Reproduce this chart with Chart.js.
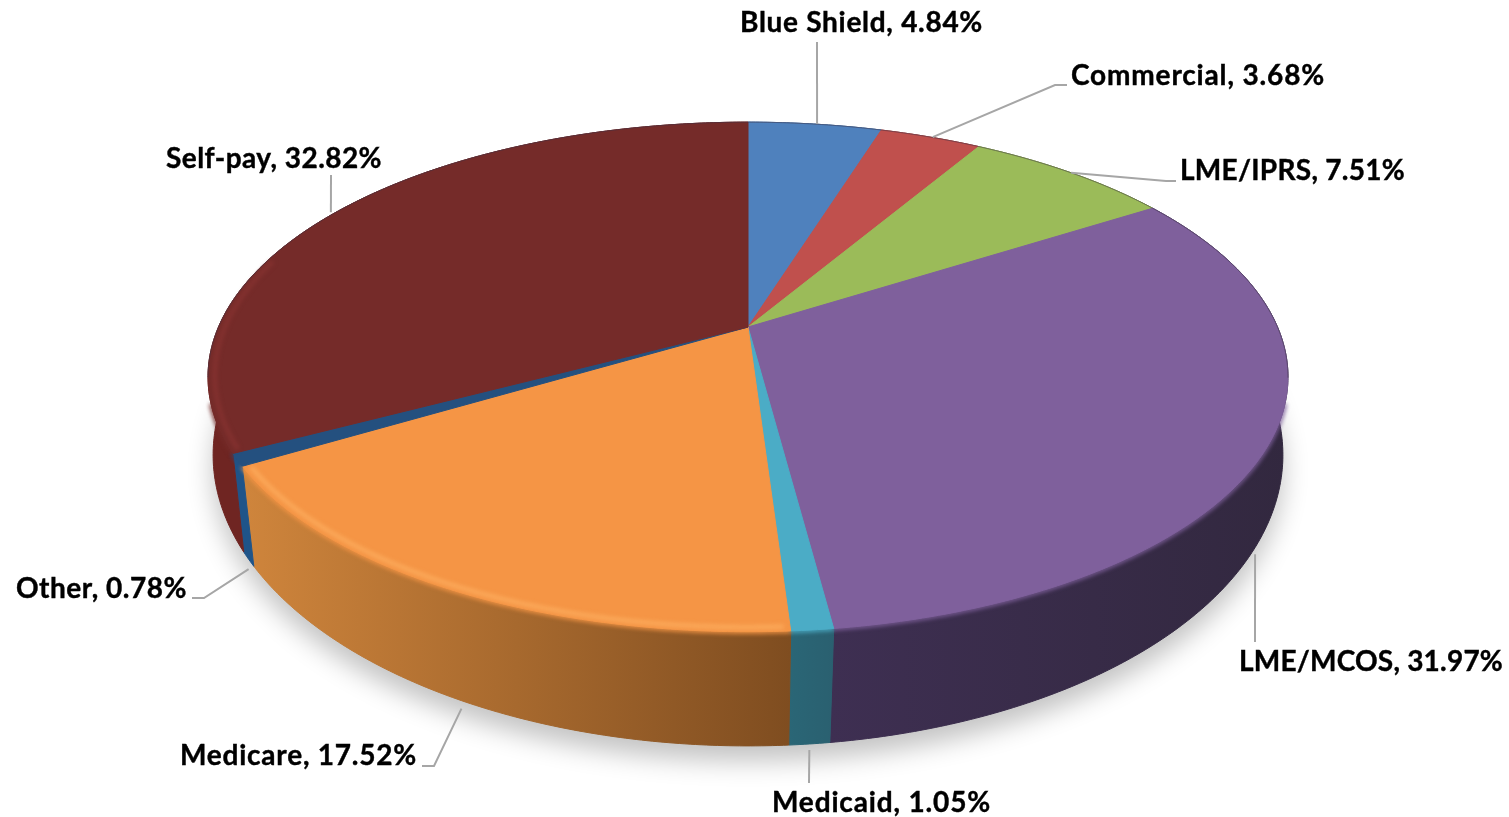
<!DOCTYPE html>
<html lang="en">
<head>
<meta charset="UTF-8">
<title>Payer mix</title>
<script src="https://cdn.jsdelivr.net/npm/chart.js"></script>
<style>
    html, body { margin: 0; padding: 0; background: #fff; overflow: hidden; }
    #payerChart { display: block; }
</style>
</head>
<body>
<canvas id="payerChart" width="1509" height="817"></canvas>
<script>
const categories = ['Blue Shield', 'Commercial', 'LME/IPRS', 'LME/MCOS', 'Medicaid', 'Medicare', 'Other', 'Self-pay'];
const shares = [4.84, 3.68, 7.51, 31.97, 1.05, 17.52, 0.78, 32.82];

const topColors = ['#4f81bd', '#c0504d', '#9bbb59', '#7f609c', '#4bacc6', '#f59545', '#24507f', '#752b29'];
const rimColors = ['#4f81bd', '#c0504d', '#9bbb59', '#7f609c', '#4bacc6', '#fcab5c', '#24507f', '#863230'];
const sideLeft = ['#3a5f8c', '#8f3b39', '#738b42', '#3e2f52', '#2a6676', '#cf853c', '#1f5489', '#6f2522'];
const sideRight = ['#3a5f8c', '#8f3b39', '#738b42', '#32283f', '#2a6070', '#7f4d20', '#1f5489', '#6f2522'];

// leader lines: which rim they leave from, a small nudge off the rim, then the bends
const leaderRim = ['top', 'top', 'top', 'bottom', 'bottom', 'bottom', 'bottom', 'top'];
const leaderNudge = [[2, 0], [2, 0], [0, 0], [-6, 17], [0, 6], [0, 8], [0, 10], [-5, 0]];
const leaderBends = [
    [[817, 42]],
    [[1055, 85], [1067, 85]],
    [[1166, 181], [1176, 181]],
    [[1255, 642]],
    [[809, 783]],
    [[434, 766], [422, 766]],
    [[204, 598], [192, 598]],
    [[331, 175]]
];
const labelPos = [[740, 32], [1071, 85], [1180, 180], [1239, 671], [772, 812], [180, 765], [16, 598], [166, 168]];
const labelWidth = [243, 254, 225, 264, 219, 237, 171, 216];

// perspective of the flat disc: the top face and the bottom rim
const topFace = { cx: 748, cy: 327, a: 529.5, b: 245, k: 0.196 };
const bottomFace = { cx: 748, cy: 408.4, a: 528, b: 283.5, k: 0.16 };

function project(face, angle, r = 1) {
    const u = Math.cos(angle) * r;
    const v = Math.sin(angle) * r;
    const w = 1 - face.k * v;
    return [face.cx + face.a * u / w, face.cy + face.b * v / w];
}

function rimPoints(face, start, end, r = 1) {
    const steps = Math.max(2, Math.ceil((end - start) / (Math.PI / 360)));
    const pts = [];
    for (let i = 0; i <= steps; i++) {
        pts.push(project(face, start + (end - start) * i / steps, r));
    }
    return pts;
}

function tracePts(ctx, pts) {
    pts.forEach(function (p, i) {
        if (i === 0) ctx.moveTo(p[0], p[1]);
        else ctx.lineTo(p[0], p[1]);
    });
}

const pie3d = {
    id: 'pie3d',
    // the library works out the slice angles, this only changes how they look
    beforeDatasetDraw(chart) {
        const ctx = chart.ctx;
        const arcs = chart.getDatasetMeta(0).data;

        // soft shadow under the pie
        ctx.save();
        ctx.shadowColor = 'rgba(0,0,0,0.24)';
        ctx.shadowBlur = 26;
        ctx.shadowOffsetY = 15;
        ctx.fillStyle = '#999';
        ctx.beginPath();
        tracePts(ctx, rimPoints(bottomFace, 0, Math.PI * 2));
        ctx.closePath();
        ctx.fill();
        ctx.restore();

        // side bands first, the top face covers the back ones
        arcs.forEach(function (arc, i) {
            const top = rimPoints(topFace, arc.startAngle, arc.endAngle);
            const bottom = rimPoints(bottomFace, arc.startAngle, arc.endAngle);
            const xs = top.concat(bottom).map(p => p[0]);
            const grad = ctx.createLinearGradient(Math.min(...xs), 0, Math.max(...xs), 0);
            grad.addColorStop(0, sideLeft[i]);
            grad.addColorStop(1, sideRight[i]);
            ctx.fillStyle = grad;
            ctx.strokeStyle = grad;
            ctx.lineWidth = 1;
            ctx.beginPath();
            tracePts(ctx, top);
            bottom.reverse().forEach(p => ctx.lineTo(p[0], p[1]));
            ctx.closePath();
            ctx.fill();
            ctx.stroke();
        });

        // soft bevel: the top colour blurs a little into the side along the front rim
        arcs.forEach(function (arc, i) {
            const front = Math.max(arc.startAngle, 0.3);
            const frontEnd = Math.min(arc.endAngle, Math.PI - 0.3);
            if (frontEnd > front) {
                ctx.save();
                ctx.filter = 'blur(2px)';
                ctx.strokeStyle = topColors[i];
                ctx.lineWidth = 4;
                ctx.beginPath();
                tracePts(ctx, rimPoints(topFace, front, frontEnd, 1));
                ctx.stroke();
                ctx.restore();
            }
        });

        // top face
        arcs.forEach(function (arc, i) {
            ctx.fillStyle = topColors[i];
            ctx.strokeStyle = topColors[i];
            ctx.lineWidth = 1;
            ctx.beginPath();
            ctx.moveTo(topFace.cx, topFace.cy);
            rimPoints(topFace, arc.startAngle, arc.endAngle).forEach(p => ctx.lineTo(p[0], p[1]));
            ctx.closePath();
            ctx.fill();
            ctx.stroke();
        });

        // lighter line just inside the rim, only really shows on Medicare and Self-pay
        arcs.forEach(function (arc, i) {
            const front = Math.max(arc.startAngle, 0.3);
            const frontEnd = Math.min(arc.endAngle, Math.PI + 0.3);
            if (frontEnd > front && rimColors[i] !== topColors[i]) {
                ctx.save();
                ctx.filter = 'blur(2px)';
                ctx.strokeStyle = rimColors[i];
                ctx.lineWidth = 4;
                ctx.beginPath();
                tracePts(ctx, rimPoints(topFace, front + 0.01, frontEnd - 0.01, 0.988));
                ctx.stroke();
                ctx.restore();
            }
        });

        // thin dark edge on the back of the rim
        ctx.strokeStyle = 'rgba(60,50,70,0.5)';
        ctx.lineWidth = 1;
        ctx.beginPath();
        tracePts(ctx, rimPoints(topFace, -Math.PI - 0.2, 0.2));
        ctx.stroke();

        // leader lines and labels
        arcs.forEach(function (arc, i) {
            const mid = (arc.startAngle + arc.endAngle) / 2;
            const start = project(leaderRim[i] === 'top' ? topFace : bottomFace, mid);
            start[0] += leaderNudge[i][0];
            start[1] += leaderNudge[i][1];
            ctx.strokeStyle = '#a6a6a6';
            ctx.lineWidth = 2;
            ctx.beginPath();
            tracePts(ctx, [start].concat(leaderBends[i]));
            ctx.stroke();

            const text = categories[i] + ', ' + shares[i].toFixed(2) + '%';
            ctx.fillStyle = '#000';
            ctx.strokeStyle = '#000';
            ctx.lineWidth = 0.4;
            ctx.font = 'bold 28px Lato';
            ctx.letterSpacing = '0px';
            ctx.textAlign = 'left';
            ctx.textBaseline = 'alphabetic';
            // stretch each label a touch so it is as wide as in the picture
            ctx.letterSpacing = (labelWidth[i] - ctx.measureText(text).width) / text.length + 'px';
            ctx.fillText(text, labelPos[i][0], labelPos[i][1]);
            ctx.strokeText(text, labelPos[i][0], labelPos[i][1]);
            ctx.letterSpacing = '0px';
        });
        return false;
    }
};

new Chart(document.getElementById('payerChart'), {
    type: 'pie',
    data: {
        labels: categories,
        datasets: [{ data: shares, backgroundColor: topColors, borderWidth: 0 }]
    },
    options: {
        responsive: false,
        animation: false,
        plugins: { legend: { display: false }, tooltip: { enabled: false } }
    },
    plugins: [pie3d]
});
</script>
</body>
</html>
